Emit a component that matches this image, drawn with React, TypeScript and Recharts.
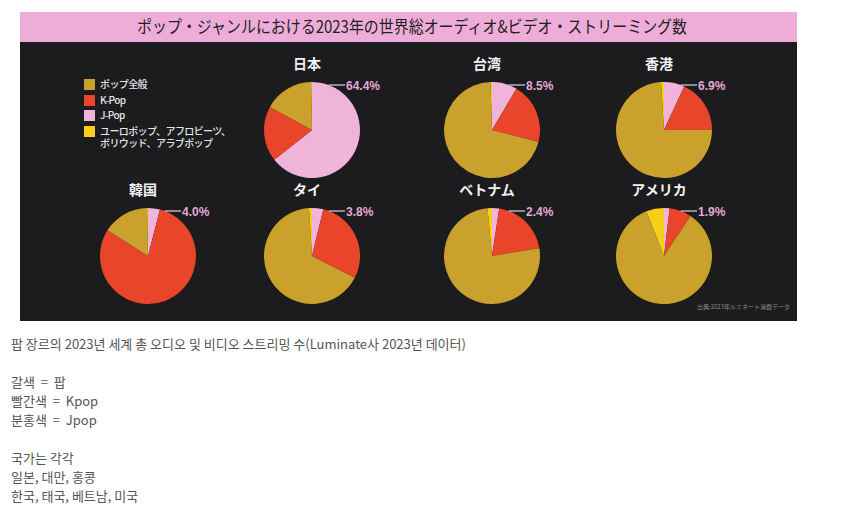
import { PieChart, Pie, Cell } from 'recharts'

const countries = ['日本', '台湾', '香港', '韓国', 'タイ', 'ベトナム', 'アメリカ']
const genres = ['ポップ全般', 'K-Pop', 'J-Pop', 'ユーロポップ、アフロビーツ、ボリウッド、アラブポップ']
// share per country, clockwise from 12 o'clock: J-Pop, K-Pop, pop overall, others
const jpop = [64.4, 8.5, 6.9, 4.0, 3.8, 2.4, 1.9]
const kpop = [18.6, 20.5, 18.0, 80.0, 28.7, 20.0, 7.4]
const popAll = [16.7, 70.5, 74.1, 15.7, 66.5, 76.1, 84.7]
const others = [0.3, 0.5, 1.0, 0.3, 1.0, 1.5, 6.0]

const notes = [
  '팝 장르의 2023년 세계 총 오디오 및 비디오 스트리밍 수(Luminate사 2023년 데이터)',
  '',
  '갈색  =  팝',
  '빨간색  =  Kpop',
  '분홍색  =  Jpop',
  '',
  '국가는 각각',
  '일본, 대만, 홍콩',
  '한국, 태국, 베트남, 미국',
]

const GOLD = '#c9a12c'
const RED = '#e9452a'
const PINK = '#f0b4da'
const YELLOW = '#f6cf1a'
const LABEL = '#e4a8d6'

// pie centres inside the dark panel
const pos = [
  [287, 113], [467, 113], [639, 113],
  [123, 239], [287, 239], [467, 239], [639, 239],
]
const R = 48

const jp = '"Noto Sans CJK JP", "Noto Sans", sans-serif'

function pieData(i: number) {
  return [
    { name: 'J-Pop', value: jpop[i], fill: PINK },
    { name: 'K-Pop', value: kpop[i], fill: RED },
    { name: 'ポップ全般', value: popAll[i], fill: GOLD },
    { name: 'その他', value: others[i], fill: YELLOW },
  ]
}

function renderLabel(props: any) {
  const { cx, cy, outerRadius, name, value } = props
  if (name !== 'J-Pop') return null
  const y = cy - outerRadius + 3
  const x0 = cx + Math.sqrt(outerRadius * outerRadius - (outerRadius - 3) * (outerRadius - 3))
  return (
    <g>
      <line x1={x0} y1={y} x2={cx + 33} y2={y} stroke="#d9c3d3" strokeWidth={1.3} />
      <text x={cx + 34} y={y + 2} fill={LABEL} fontSize={12} fontWeight={700}
        fontFamily='"Liberation Sans", Arial, sans-serif' dominantBaseline="middle">
        {value.toFixed(1)}%
      </text>
    </g>
  )
}

export default function App() {
  const legendColors = [GOLD, RED, PINK, YELLOW]
  const legendLines = [['ポップ全般'], ['K-Pop'], ['J-Pop'], ['ユーロポップ、アフロビーツ、', 'ボリウッド、アラブポップ']]
  return (
    <div style={{ position: 'absolute', left: 0, top: 0, width: 850, height: 529, background: '#fff', overflow: 'hidden' }}>
      <div style={{ position: 'absolute', left: 20, top: 12, width: 777, height: 309, background: '#1c1b1d' }}>
        <div style={{ position: 'absolute', left: 0, top: 0, width: 777, height: 30, background: '#eeadd8' }}>
          <svg width={777} height={30} style={{ display: 'block' }}>
            <text x={117} y={21} textLength={550} lengthAdjust="spacingAndGlyphs" fontSize={17}
              fontWeight={400} fill="#231f20" fontFamily={jp}>
              ポップ・ジャンルにおける2023年の世界総オーディオ&ビデオ・ストリーミング数
            </text>
          </svg>
        </div>

        <div style={{ position: 'absolute', left: 0, top: 0 }}>
          <PieChart width={777} height={309}>
            {pos.map(([cx, cy], i) => (
              <Pie key={countries[i]} data={pieData(i)} dataKey="value" nameKey="name" cx={cx} cy={cy}
                outerRadius={R} startAngle={90} endAngle={-270} stroke="none"
                isAnimationActive={false} label={renderLabel} labelLine={false}>
                {pieData(i).map((d) => <Cell key={d.name} fill={d.fill} />)}
              </Pie>
            ))}
          </PieChart>
        </div>

        {pos.map(([cx, cy], i) => (
          <div key={countries[i]} style={{
            position: 'absolute', left: cx - 50, width: 100, top: cy - 72, textAlign: 'center',
            color: '#f2f2f2', fontSize: 14, fontWeight: 700, fontFamily: jp, lineHeight: '20px',
          }}>{countries[i]}</div>
        ))}

        {genres.map((g, i) => (
          <div key={g} style={{ position: 'absolute', left: 64, top: 67 + i * 15.7 }}>
            <div style={{ position: 'absolute', left: 0, top: 0, width: 11, height: 11, background: legendColors[i] }} />
            {legendLines[i].map((t, j) => (
              <div key={t} style={{
                position: 'absolute', left: 16, top: j * 12, color: '#e6e6e6', fontSize: 10,
                fontFamily: jp, lineHeight: '10px', height: 10, letterSpacing: -0.6, whiteSpace: 'nowrap', fontWeight: 500,
              }}>{t}</div>
            ))}
          </div>
        ))}

        <div style={{
          position: 'absolute', left: 677, top: 290, width: 90, color: '#8a8a8a', fontSize: 6,
          fontFamily: jp, whiteSpace: 'nowrap',
        }}>出典:2023年ルミネート消費データ</div>
      </div>

      <div style={{
        position: 'absolute', left: 11, top: 334, color: '#555', fontSize: 13, lineHeight: '19px',
        fontFamily: '"Noto Sans CJK KR", "Noto Sans", sans-serif', whiteSpace: 'pre',
      }}>
        {notes.map((t, i) => <div key={i} style={{ height: 19 }}>{t}</div>)}
      </div>
    </div>
  )
}
